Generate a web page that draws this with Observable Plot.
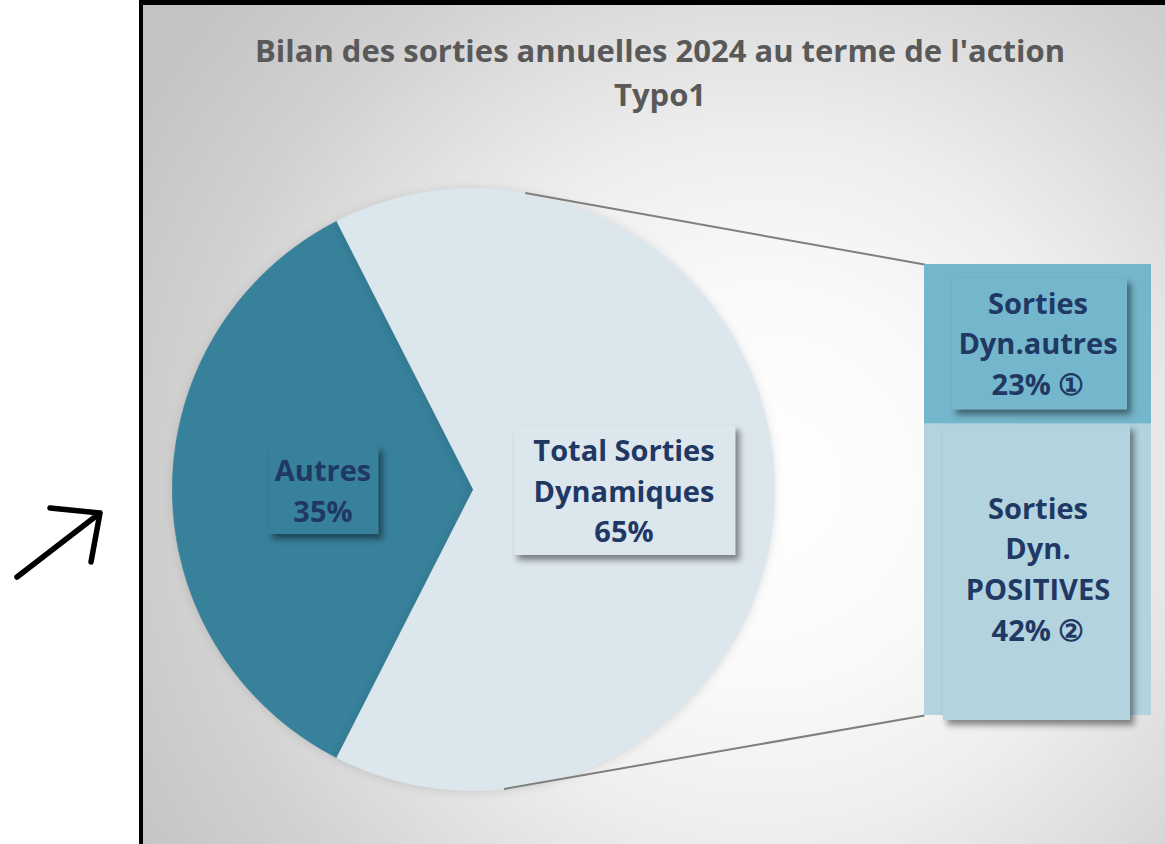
<!DOCTYPE html>
<html>
<head>
<meta charset="utf-8">
<script src="https://cdn.jsdelivr.net/npm/d3@7"></script>
<script src="https://cdn.jsdelivr.net/npm/@observablehq/plot@0.6"></script>
<style>
  html, body { margin: 0; padding: 0; background: #fff; }
  #page { position: relative; width: 1165px; height: 844px; overflow: hidden; background: #fff; font-family: "Open Sans", sans-serif; }
  #frame { position: absolute; left: 139px; top: 0; width: 1026px; height: 844px; box-sizing: border-box;
    border-left: 4px solid #000; border-top: 5px solid #000;
    background: radial-gradient(circle 760px at 621px 480px, #ffffff 0px, #fafafa 190px, #eeeeee 350px, #dfdfdf 470px, #d1d1d1 580px, #c3c3c3 740px); }
  #title { position: absolute; left: 660px; top: 28px; transform: translateX(-50%); white-space: nowrap; text-align: center;
    font-family: "Open Sans", sans-serif; font-weight: 700; font-size: 31px; line-height: 44px; color: #595959; }
  #arrow { position: absolute; left: 0; top: 0; }
  .layer { position: absolute; }
</style>
</head>
<body>
<div id="page">
  <div id="frame"></div>
  <div id="title"></div>
  <svg id="arrow" width="140" height="844"><path d="M17,577 L100,513 M50,508 L100,513 L91,562" fill="none" stroke="#000" stroke-width="5.5" stroke-linecap="round" stroke-linejoin="round"/></svg>
  <div id="pie" class="layer" style="left:0;top:0"></div>
  <div id="bar" class="layer" style="left:914px;top:254px"></div>
</div>
<script>
// ---- data ----
const titleLines = ["Bilan des sorties annuelles 2024 au terme de l'action", "Typo1"];
const pieCategories = ["Autres", "Total Sorties Dynamiques"];
const pieValues = [35, 65];
const pieLabels = ["Autres\n35%", "Total Sorties\nDynamiques\n65%"];
const barCategories = ["Sorties Dyn. POSITIVES", "Sorties Dyn.autres"];
const barValues = [42, 23];
const barLabels = ["Sorties\nDyn.\nPOSITIVES\n42% \u2461", "Sorties\nDyn.autres\n23% \u2460"];

// ---- styles / layout ----
const pieColors = ["#37819a", "#dce6ed"];
const barColors = ["#b3d3de", "#74b6cc"];
const labelColor = "#1f3864";
const shadow = "drop-shadow(4px 5px 3px rgba(0,0,0,0.45))";
const CX = 473, CY = 489, R = 301;
const BAR_LEFT = 924, BAR_TOP = 264, BAR_BOTTOM = 715;
const pieBoxSize = [[110, 88], [222, 130]];
const connectorAngles = [9.9, 174.2];

document.getElementById("title").innerHTML = titleLines.join("<br>");

// ---- pie ----
const total = d3.sum(pieValues);
const start = 1.5 * Math.PI - Math.PI * pieValues[0] / total;
const arcs = d3.pie().sort(null).startAngle(start).endAngle(start + 2 * Math.PI)(pieValues);
const pt = a => [CX + R * Math.sin(a), CY - R * Math.cos(a)];
const sliceRows = arcs.map((arc, i) => {
  const n = Math.ceil((arc.endAngle - arc.startAngle) / (Math.PI / 360));
  const pts = [{category: pieCategories[i], x: CX, y: CY}];
  for (let k = 0; k <= n; k++) {
    const [x, y] = pt(arc.startAngle + (arc.endAngle - arc.startAngle) * k / n);
    pts.push({category: pieCategories[i], x, y});
  }
  pts.push({category: pieCategories[i], x: CX, y: CY});
  return pts;
});
const pieLabelRows = arcs.map((arc, i) => {
  const mid = (arc.startAngle + arc.endAngle) / 2;
  return {category: pieCategories[i], label: pieLabels[i],
    x: CX + 0.5 * R * Math.sin(mid), y: CY - 0.5 * R * Math.cos(mid),
    w: pieBoxSize[i][0], h: pieBoxSize[i][1]};
});
const connectors = connectorAngles.map((deg, i) => {
  const [x1, y1] = pt(deg * Math.PI / 180);
  return {x1, y1, x2: BAR_LEFT, y2: i === 0 ? BAR_TOP : BAR_BOTTOM};
});

const pieColor = {domain: pieCategories, range: pieColors};
const piePlot = Plot.plot({
  width: 1165, height: 844, margin: 0,
  x: {domain: [0, 1165], range: [0, 1165], axis: null},
  y: {domain: [0, 844], range: [0, 844], axis: null},
  color: pieColor,
  style: {background: "transparent", overflow: "visible"},
  marks: [
    ...sliceRows.map(rows => Plot.line(rows, {x: "x", y: "y", fill: "category", stroke: "category", strokeWidth: 0.8, curve: "linear",
      imageFilter: "drop-shadow(0px 1px 5px rgba(0,0,0,0.12))"})),
    Plot.link(connectors, {x1: "x1", y1: "y1", x2: "x2", y2: "y2", stroke: "#7f7f7f", strokeWidth: 2}),
    Plot.rect(pieLabelRows, {x1: d => d.x - d.w / 2 + 1, x2: d => d.x + d.w / 2 + 1, y1: d => d.y - d.h / 2 + 1, y2: d => d.y + d.h / 2 + 1,
      fill: "category", imageFilter: shadow}),
    Plot.text(pieLabelRows, {x: "x", y: "y", text: "label", fill: labelColor, fontSize: 29, fontWeight: 700,
      fontFamily: "Open Sans", lineHeight: 1.4, dy: -1})
  ]
});
document.getElementById("pie").appendChild(piePlot);

// ---- bar (second plot) ----
const cum = d3.cumsum(barValues);
const barRows = barCategories.map((c, i) => ({category: c, label: barLabels[i], y1: cum[i] - barValues[i], y2: cum[i]}));
const barPlot = Plot.plot({
  width: 247, height: 481, marginLeft: 10, marginRight: 10, marginTop: 10, marginBottom: 20,
  x: {domain: [0, 1], axis: null},
  y: {domain: [0, d3.sum(barValues)], axis: null},
  color: {domain: barCategories, range: barColors},
  style: {background: "transparent", overflow: "visible"},
  marks: [
    Plot.rect(barRows, {x1: () => 0, x2: () => 1, y1: "y1", y2: "y2", fill: "category"}),
    Plot.rect(barRows.filter(d => d.category === barCategories[0]), {x1: () => 0, x2: () => 1, y1: "y1", y2: "y2", fill: "category",
      insetLeft: 19, insetRight: 21, insetTop: 1, insetBottom: -5, imageFilter: shadow}),
    Plot.rect(barRows.filter(d => d.category === barCategories[1]), {x1: () => 0, x2: () => 1, y1: "y1", y2: "y2", fill: "category",
      insetLeft: 28, insetRight: 24, insetTop: 14, insetBottom: 14, imageFilter: shadow}),
    Plot.text(barRows, {x: () => 0.5, y: d => (d.y1 + d.y2) / 2, text: "label", fill: labelColor, fontSize: 29, fontWeight: 700,
      fontFamily: "Open Sans", lineHeight: 1.4, dy: -3})
  ]
});
document.getElementById("bar").appendChild(barPlot);
</script>
</body>
</html>
